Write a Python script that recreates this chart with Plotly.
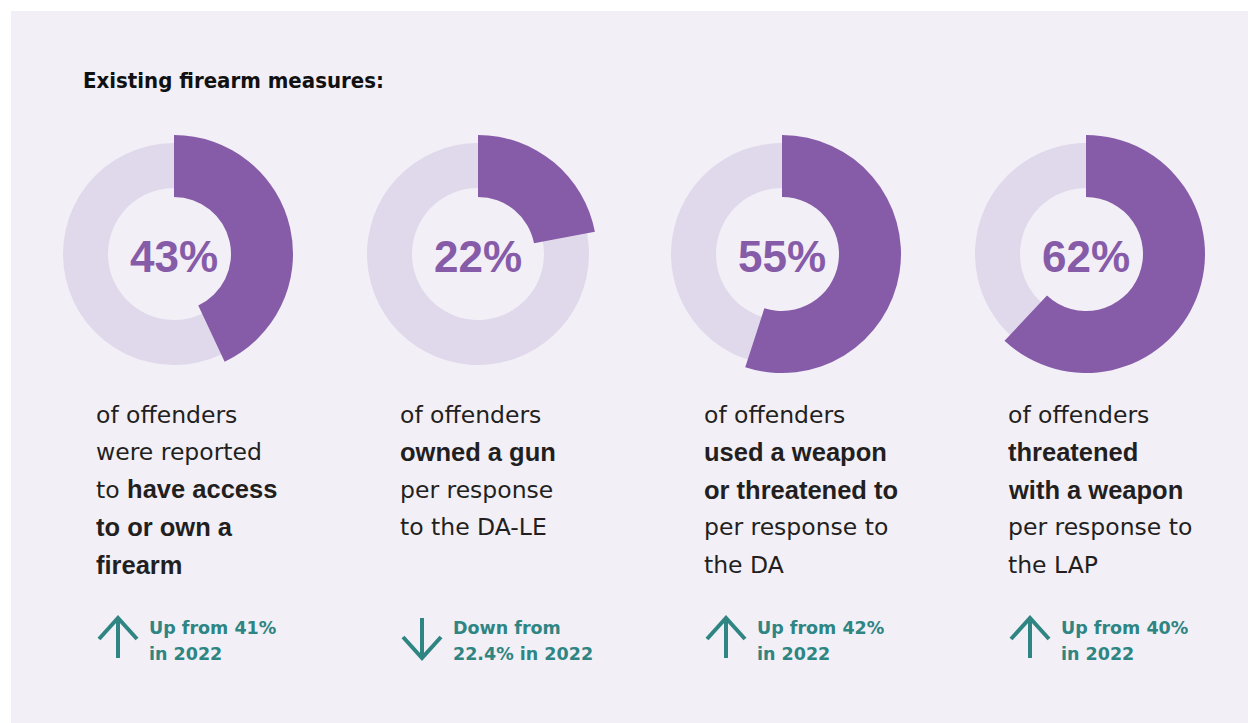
import plotly.graph_objects as go

W, H = 1248, 723

# ---- data ----
percent = [43, 22, 55, 62]
previous = [41, 22.4, 42, 40]
desc_lines = [
    ["of offenders", "were reported", "to <B>have access</B>", "<B>to or own a</B>", "<B>firearm</B>"],
    ["of offenders", "<B>owned a gun</B>", "per response", "to the DA-LE"],
    ["of offenders", "<B>used a weapon</B>", "<B>or threatened to</B>", "per response to", "the DA"],
    ["of offenders", "<B>threatened</B>", "<B>with a weapon</B>", "per response to", "the LAP"],
]
change_lines = [
    ["Up from 41%", "in 2022"],
    ["Down from", "22.4% in 2022"],
    ["Up from 42%", "in 2022"],
    ["Up from 40%", "in 2022"],
]
title = "Existing firearm measures:"

# ---- style ----
PURPLE = "#865BA8"
LIGHT = "#E0D8EB"
PANEL = "#F2EFF7"
TEAL = "#2E8582"
INK = "#231F20"
BOLD_SPAN = '<span style="font-family:Liberation Sans, Arial, sans-serif;font-weight:bold;font-size:25.5px">'

def px_x(x):
    return x / W

def px_y(y):
    return 1 - y / H

cx0, step, cy = 174, 304, 254
r_track, hole_track = 111, 66
r_val, hole_val = 119, 57

fig = go.Figure()
shapes = []
annotations = []

shapes.append(dict(type="rect", xref="paper", yref="paper", x0=px_x(11), x1=1, y0=0, y1=px_y(11),
                   fillcolor=PANEL, line=dict(width=0), layer="below"))

for i, p in enumerate(percent):
    cx = cx0 + i * step
    vals = [p, 100 - p]
    fig.add_trace(go.Pie(
        values=vals, sort=False, direction="clockwise", rotation=0,
        hole=hole_track / r_track,
        marker=dict(colors=[LIGHT, LIGHT], line=dict(width=0)),
        textinfo="none", hoverinfo="skip", showlegend=False,
        domain=dict(x=[px_x(cx - r_track), px_x(cx + r_track)],
                    y=[px_y(cy + r_track), px_y(cy - r_track)]),
    ))
    fig.add_trace(go.Pie(
        values=vals, sort=False, direction="clockwise", rotation=0,
        hole=hole_val / r_val,
        marker=dict(colors=[PURPLE, "rgba(0,0,0,0)"], line=dict(width=0)),
        textinfo="none", hoverinfo="skip", showlegend=False,
        domain=dict(x=[px_x(cx - r_val), px_x(cx + r_val)],
                    y=[px_y(cy + r_val), px_y(cy - r_val)]),
    ))
    annotations.append(dict(
        x=px_x(cx), y=px_y(cy + 2), xref="paper", yref="paper", showarrow=False,
        text=f"<b>{p}%</b>", xanchor="center", yanchor="middle",
        font=dict(family="Liberation Sans, Arial, sans-serif", size=44, color=PURPLE),
    ))

    tx = cx - 80
    for k, line in enumerate(desc_lines[i]):
        t = line.replace("<B>", BOLD_SPAN).replace("</B>", "</span>")
        annotations.append(dict(
            x=px_x(tx), y=px_y(415 + 37.4 * k), xref="paper", yref="paper", showarrow=False,
            text=t, xanchor="left", yanchor="middle",
            font=dict(family="DejaVu Sans, sans-serif", size=23.5, color=INK),
        ))

    for k, line in enumerate(change_lines[i]):
        annotations.append(dict(
            x=px_x(tx + 53), y=px_y(627.5 + 26.5 * k), xref="paper", yref="paper", showarrow=False,
            text=f"<b>{line}</b>", xanchor="left", yanchor="middle",
            font=dict(family="DejaVu Sans, sans-serif", size=17.5, color=TEAL),
        ))

    # arrow
    ax = tx + 24
    up = p > previous[i]
    top, bot = 618, 658
    if up:
        tip, tail, wing = top, bot, 639
    else:
        tip, tail, wing = bot, top, 637
    path = (f"M {px_x(ax)},{px_y(tail)} L {px_x(ax)},{px_y(tip)} "
            f"M {px_x(ax - 19)},{px_y(wing)} L {px_x(ax)},{px_y(tip)} L {px_x(ax + 19)},{px_y(wing)}")
    shapes.append(dict(type="path", xref="paper", yref="paper", path=path,
                       line=dict(color=TEAL, width=4)))

annotations.append(dict(
    x=px_x(81), y=px_y(80), xref="paper", yref="paper", showarrow=False,
    text=title, xanchor="left", yanchor="middle",
    font=dict(family="DejaVu Sans Condensed, DejaVu Sans, sans-serif", size=22, color="#111111",
              weight="bold"),
))

fig.update_layout(
    width=W, height=H, margin=dict(l=0, r=0, t=0, b=0),
    paper_bgcolor="white", plot_bgcolor="white",
    shapes=shapes, annotations=annotations, showlegend=False,
)

fig.write_html("out.html")
